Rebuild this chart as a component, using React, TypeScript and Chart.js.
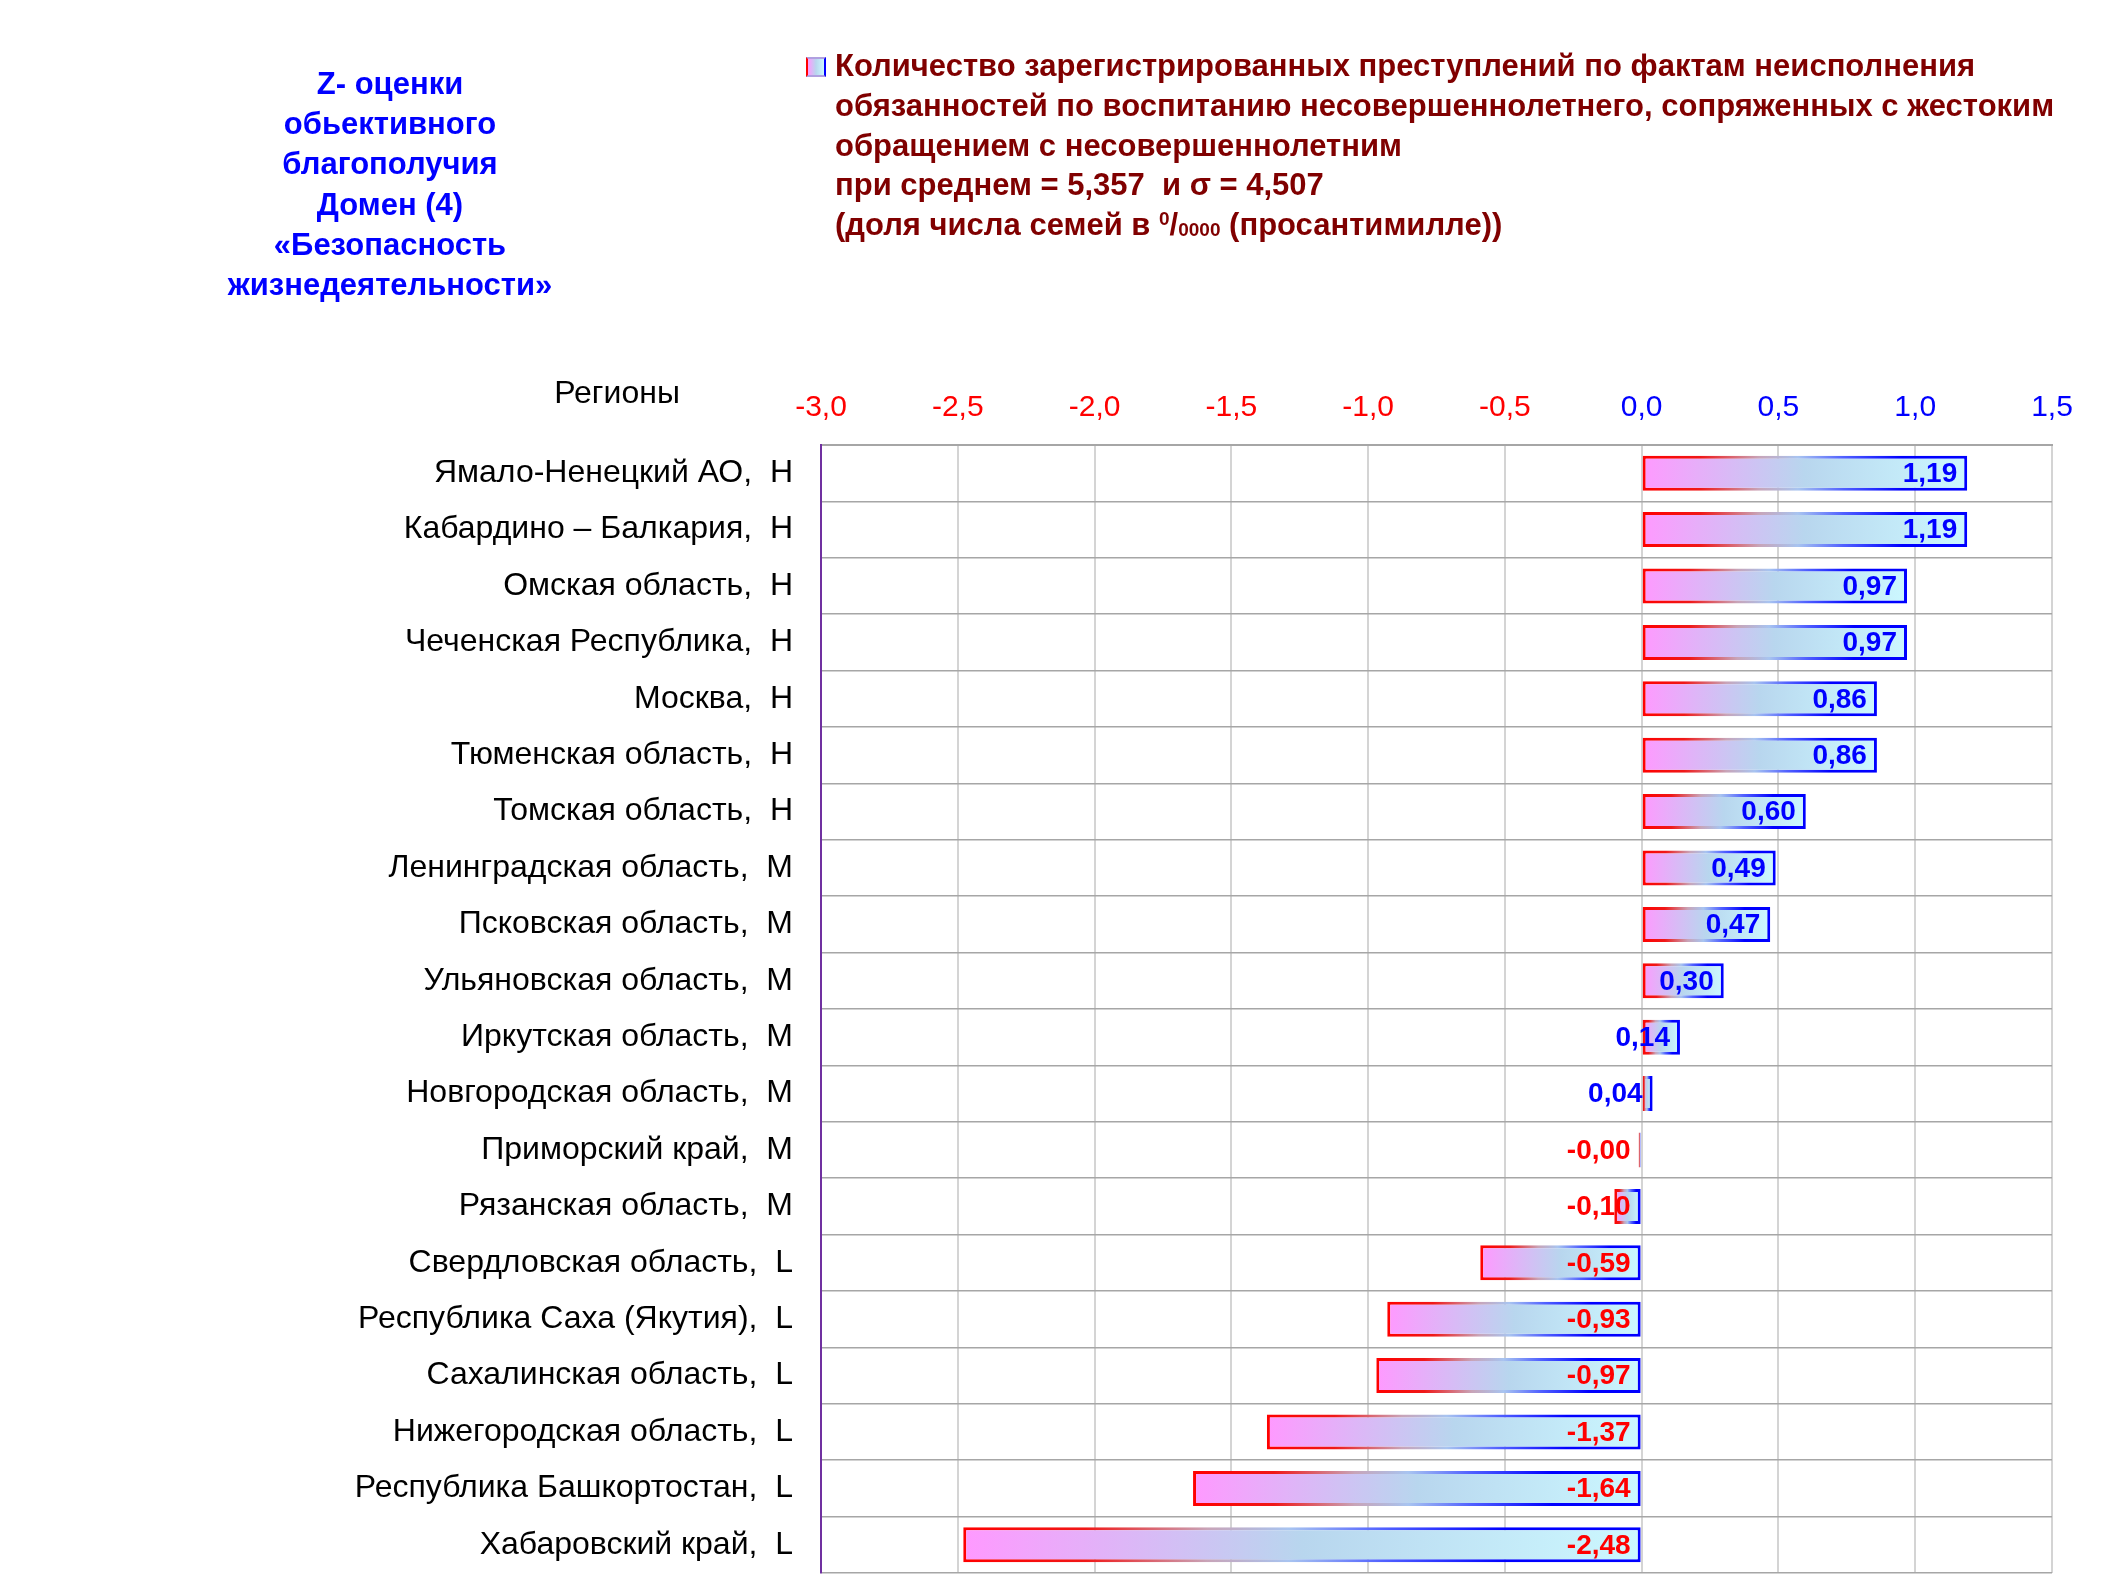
import React, { useEffect, useRef } from 'react';
import { Chart, registerables } from 'chart.js';

Chart.register(...registerables);

const regions = [
  'Ямало-Ненецкий АО',
  'Кабардино – Балкария',
  'Омская область',
  'Чеченская Республика',
  'Москва',
  'Тюменская область',
  'Томская область',
  'Ленинградская область',
  'Псковская область',
  'Ульяновская область',
  'Иркутская область',
  'Новгородская область',
  'Приморский край',
  'Рязанская область',
  'Свердловская область',
  'Республика Саха (Якутия)',
  'Сахалинская область',
  'Нижегородская область',
  'Республика Башкортостан',
  'Хабаровский край',
];

const grades = ['Н', 'Н', 'Н', 'Н', 'Н', 'Н', 'Н', 'М', 'М', 'М', 'М', 'М', 'М', 'М', 'L', 'L', 'L', 'L', 'L', 'L'];

const zScores = [1.19, 1.19, 0.97, 0.97, 0.86, 0.86, 0.6, 0.49, 0.47, 0.3, 0.14, 0.04, -0.004, -0.1, -0.59, -0.93, -0.97, -1.37, -1.64, -2.48];

const axisMin = -3.0;
const axisMax = 1.5;
const axisStep = 0.5;

const titleLines = ['Z- оценки', 'обьективного', 'благополучия', 'Домен (4)', '«Безопасность', 'жизнедеятельности»'];

const FONT = '"Liberation Sans", Arial, sans-serif';
const RED = '#ff0000';
const BLUE = '#0000ff';

const fmt = (v: number, d: number) => v.toFixed(d).replace('.', ',');

function barSpan(ctx: any): [number, number] | null {
  const chart = ctx.chart;
  const xs = chart.scales && chart.scales.x;
  if (!xs || !chart.chartArea) return null;
  const v = ctx.raw as number;
  let x0 = xs.getPixelForValue(Math.min(0, v));
  let x1 = xs.getPixelForValue(Math.max(0, v));
  if (x1 - x0 < 3) {
    if (v < 0) x0 = x1 - 3;
    else x1 = x0 + 3;
  }
  return [x0, x1];
}

function fillGradient(ctx: any) {
  const s = barSpan(ctx);
  if (!s) return '#c0d8f0';
  const g = ctx.chart.ctx.createLinearGradient(s[0], 0, s[1], 0);
  g.addColorStop(0, '#ff99ff');
  g.addColorStop(0.5, '#b8d6ee');
  g.addColorStop(1, '#ccf8ff');
  return g;
}

function borderGradient(ctx: any) {
  const s = barSpan(ctx);
  if (!s) return BLUE;
  const g = ctx.chart.ctx.createLinearGradient(s[0], 0, s[1], 0);
  g.addColorStop(0, RED);
  g.addColorStop(0.18, '#f01818');
  g.addColorStop(0.36, '#c8a4b8');
  g.addColorStop(0.48, '#a8c4f0');
  g.addColorStop(0.62, '#5060ff');
  g.addColorStop(0.8, BLUE);
  g.addColorStop(1, BLUE);
  return g;
}

const valueLabels = {
  id: 'valueLabels',
  afterDatasetsDraw(chart: any) {
    const c = chart.ctx;
    const meta = chart.getDatasetMeta(0);
    c.save();
    c.font = `bold 28px ${FONT}`;
    c.textAlign = 'right';
    c.textBaseline = 'middle';
    meta.data.forEach((el: any, i: number) => {
      const v = zScores[i];
      const right = Math.max(el.x, el.base);
      c.fillStyle = v < 0 ? RED : BLUE;
      c.fillText(fmt(v, 2), right - 10, el.y + 1);
    });
    c.restore();
  },
};

export default function App() {
  const ref = useRef<HTMLCanvasElement | null>(null);

  useEffect(() => {
    if (!ref.current) return;
    const chart = new Chart(ref.current, {
      type: 'bar',
      data: {
        labels: regions.map((r, i) => `${r},  ${grades[i]}`),
        datasets: [
          {
            data: zScores,
            backgroundColor: fillGradient as any,
            borderColor: borderGradient as any,
            borderWidth: 3,
            borderSkipped: false,
            barPercentage: 0.62,
            categoryPercentage: 1,
            minBarLength: 3,
          },
        ],
      },
      options: {
        indexAxis: 'y',
        animation: false,
        responsive: false,
        devicePixelRatio: 1,
        layout: { padding: { left: 0, top: 0, right: 73, bottom: 21 } },
        plugins: {
          legend: { display: false },
          tooltip: { enabled: false },
        },
        scales: {
          x: {
            type: 'linear',
            position: 'top',
            min: axisMin,
            max: axisMax,
            afterFit: (s: any) => {
              s.height = 445;
            },
            ticks: {
              stepSize: axisStep,
              padding: 19,
              font: { family: FONT, size: 30 },
              color: (c: any) => (c.tick && c.tick.value < 0 ? RED : BLUE),
              callback: (v: any) => fmt(Number(v), 1),
            },
            grid: { color: '#d4d4d4', lineWidth: 2, drawTicks: false },
            border: { color: '#a6a6a6', width: 2 },
          },
          y: {
            type: 'category',
            afterFit: (s: any) => {
              s.width = 821;
              s.paddingTop = 0;
              s.paddingBottom = 0;
            },
            ticks: {
              padding: 28,
              font: { family: FONT, size: 32 },
              color: '#000000',
            },
            grid: { color: '#a6a6a6', lineWidth: 1.5, drawTicks: false, offset: true },
            border: { color: '#7030a0', width: 2 },
          },
        },
      },
      plugins: [valueLabels],
    });
    return () => chart.destroy();
  }, []);

  return (
    <div style={{ position: 'fixed', left: 0, top: 0, width: 2125, height: 1594, background: '#fff', overflow: 'hidden' }}>
      <canvas ref={ref} width={2125} height={1594} style={{ position: 'absolute', left: 0, top: 0, width: 2125, height: 1594 }} />
      <div
        style={{
          position: 'absolute',
          left: 140,
          top: 64,
          width: 500,
          textAlign: 'center',
          fontFamily: FONT,
          fontWeight: 'bold',
          fontSize: 31,
          lineHeight: '40.2px',
          color: BLUE,
        }}
      >
        {titleLines.map((t, i) => (
          <div key={i}>{t}</div>
        ))}
      </div>
      <div
        style={{
          position: 'absolute',
          left: 806,
          top: 57,
          width: 16,
          height: 16,
          borderStyle: 'solid',
          borderWidth: 2,
          borderLeftColor: RED,
          borderRightColor: BLUE,
          borderTopColor: '#b0a0e0',
          borderBottomColor: '#b0a0e0',
          background: 'linear-gradient(to right, #ff99ff, #b8d6ee 50%, #ccf8ff)',
        }}
      />
      <div
        style={{
          position: 'absolute',
          left: 835,
          top: 46,
          fontFamily: FONT,
          fontWeight: 'bold',
          fontSize: 31,
          lineHeight: '39.8px',
          color: '#800000',
          whiteSpace: 'pre',
        }}
      >
        <div>Количество зарегистрированных преступлений по фактам неисполнения</div>
        <div>обязанностей по воспитанию несовершеннолетнего, сопряженных с жестоким</div>
        <div>обращением с несовершеннолетним</div>
        <div>при среднем = 5,357  и σ = 4,507</div>
        <div>
          (доля числа семей в <sup style={{ fontSize: 19, verticalAlign: 'top', lineHeight: '28px' }}>0</sup>/
          <sub style={{ fontSize: 19, verticalAlign: 'bottom', lineHeight: '30px' }}>0000</sub> (просантимилле))
        </div>
      </div>
      <div
        style={{
          position: 'absolute',
          left: 517,
          top: 372,
          width: 200,
          textAlign: 'center',
          fontFamily: FONT,
          fontSize: 32,
          lineHeight: '40px',
          color: '#000',
        }}
      >
        Регионы
      </div>
    </div>
  );
}
